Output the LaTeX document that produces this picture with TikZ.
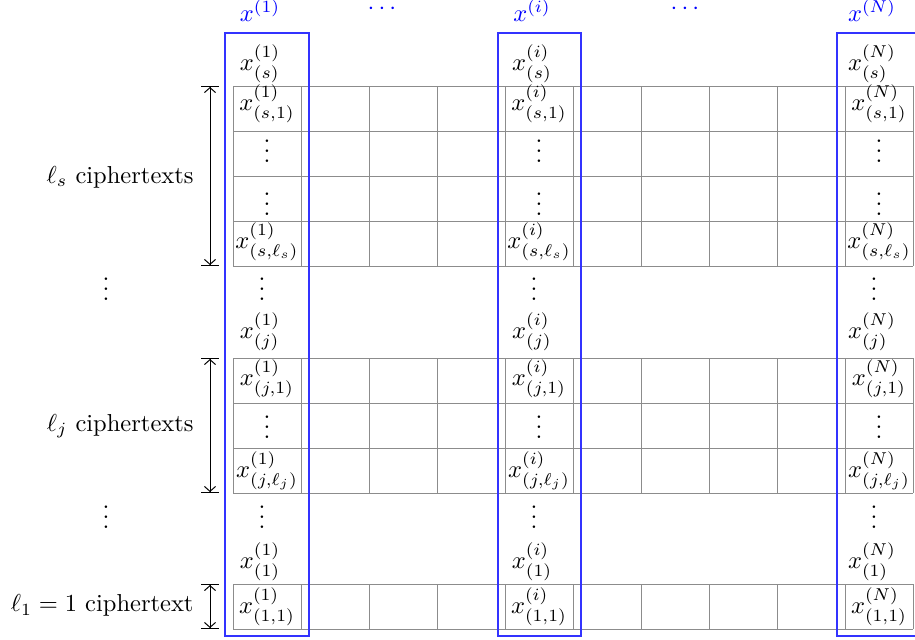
\documentclass[tikz,border=0pt]{standalone}
\usetikzlibrary{arrows.meta}
\begin{document}
\begin{tikzpicture}[x=0.01435cm,y=-0.01435cm,
  gridline/.style={draw=gray!90, line width=0.4pt},
  colbox/.style={draw=blue!80, line width=0.55pt},
  head/.style={text=blue, anchor=base, inner sep=0pt},
  cell/.style={anchor=base, inner sep=0pt},
  side/.style={anchor=mid east, inner sep=0pt},
  span/.style={line width=0.4pt,
    {Bar[width=7pt]Straight Barb[length=2pt,width=4.5pt]}-{Straight Barb[length=2pt,width=4.5pt]Bar[width=7pt]}}]
\useasboundingbox (0,0) rectangle (915,639);
\clip (0,0) rectangle (915,639);
% grid
\foreach \t/\b in {86/266,358/493,584/629}{
  \foreach \k in {0,...,10}{
    \draw[gridline] (233+68*\k,\t) -- (233+68*\k,\b);
  }
}
\foreach \yy in {86,131,176,221,266,358,403,448,493,584,629}{
  \draw[gridline] (233,\yy) -- (913,\yy);
}
% column boxes
\draw[colbox] (225,33) rectangle (309,636);
\draw[colbox] (498,33) rectangle (581,636);
\draw[colbox] (837,33) rectangle (921,636);
% header dots
\node[head] (hd1) at (382,14.5) {$\cdots$};
\node[head] (hd2) at (685,14.5) {$\cdots$};
% cell texts
\foreach \c/\cx/\u in {a/267/1,b/539/i,c/879/N}{
  \node[head] (h-\c) at (\cx-7,21.5) {$x^{(\u)}$};
  \node[cell] (s0-\c) at (\cx-7,70) {$x^{(\u)}_{(s)}$};
  \node[cell] (s1-\c) at (\cx,110) {$x^{(\u)}_{(s,1)}$};
  \node[cell] (s2-\c) at (\cx,162.5) {$\vdots$};
  \node[cell] (s3-\c) at (\cx,215) {$\vdots$};
  \node[cell] (s4-\c) at (\cx,248) {$x^{(\u)}_{(s,\ell_s)}$};
  \node[cell] (d1-\c) at (\cx-5,300) {$\vdots$};
  \node[cell] (j0-\c) at (\cx-7,338) {$x^{(\u)}_{(j)}$};
  \node[cell] (j1-\c) at (\cx,385) {$x^{(\u)}_{(j,1)}$};
  \node[cell] (j2-\c) at (\cx,438) {$\vdots$};
  \node[cell] (j3-\c) at (\cx,477) {$x^{(\u)}_{(j,\ell_j)}$};
  \node[cell] (d2-\c) at (\cx-5,528) {$\vdots$};
  \node[cell] (o0-\c) at (\cx-7,568) {$x^{(\u)}_{(1)}$};
  \node[cell] (o1-\c) at (\cx,613) {$x^{(\u)}_{(1,1)}$};
}
% side labels
\node[side] (ls) at (194,178) {$\ell_s$ ciphertexts};
\node[side] (lj) at (194,426) {$\ell_j$ ciphertexts};
\node[side] (l1) at (194,606.5) {$\ell_1=1$ ciphertext};
\node[cell] (lv1) at (106,300) {$\vdots$};
\node[cell] (lv2) at (106,528) {$\vdots$};
% span arrows
\coordinate (as-t) at (210,86);
\coordinate (as-b) at (210,266);
\coordinate (aj-t) at (210,358);
\coordinate (aj-b) at (210,493);
\coordinate (a1-t) at (210,584);
\coordinate (a1-b) at (210,629);
\draw[span] (as-t) -- (as-b);
\draw[span] (aj-t) -- (aj-b);
\draw[span] (a1-t) -- (a1-b);
\end{tikzpicture}
\end{document}
